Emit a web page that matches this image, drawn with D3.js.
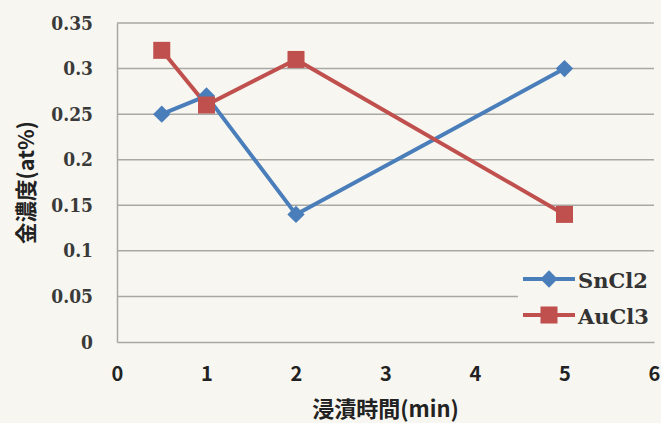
<!DOCTYPE html>
<html>
<head>
<meta charset="utf-8">
<script src="https://cdn.jsdelivr.net/npm/d3@7"></script>
<style>
  html, body { margin: 0; padding: 0; background: #f8f6f0; }
  svg { display: block; }
</style>
</head>
<body>
<svg id="chart" width="661" height="423"></svg>
<script>
// Immersion time (min) and gold concentration (at%)
const times = [0.5, 1, 2, 5];
const sncl2 = [0.25, 0.27, 0.14, 0.30];
const aucl3 = [0.32, 0.26, 0.31, 0.14];
const seriesNames = ["SnCl2", "AuCl3"];
const xTicks = [0, 1, 2, 3, 4, 5, 6];
const yTicks = [0, 0.05, 0.1, 0.15, 0.2, 0.25, 0.3, 0.35];
const xTitle = "浸漬時間(min)";
const yTitle = "金濃度(at%)";

const colors = ["#4a7ebb", "#c0504d"];
const svg = d3.select("#chart");
const plot = { left: 117, right: 654, top: 23, bottom: 342 };

const x = d3.scaleLinear().domain([0, 6]).range([plot.left, plot.right]);
const y = d3.scaleLinear().domain([0, 0.35]).range([plot.bottom, plot.top]);

const serifFont = "'DejaVu Serif', serif";
const sansFont = "'Noto Sans CJK JP', sans-serif";

// horizontal gridlines
svg.append("g").selectAll("line").data(yTicks.filter(d => d > 0)).join("line")
  .attr("x1", plot.left).attr("x2", plot.right)
  .attr("y1", d => y(d)).attr("y2", d => y(d))
  .attr("stroke", "#a8a8a4").attr("stroke-width", 1.5);

// axes
const yAxis = d3.axisLeft(y).tickValues(yTicks).tickSize(0).tickPadding(24)
  .tickFormat(d => String(+d.toFixed(2)));
const gy = svg.append("g").attr("transform", `translate(${plot.left},0)`).call(yAxis);
gy.select(".domain").attr("stroke", "#a8a8a4").attr("stroke-width", 1.5);
gy.selectAll("text").style("font-family", serifFont).style("font-size", "19px")
  .style("font-stretch", "condensed").style("font-weight", "bold").attr("fill", "#3a3a3a");

const xAxis = d3.axisBottom(x).tickValues(xTicks).tickSize(0).tickPadding(25)
  .tickFormat(d3.format("d"));
const gx = svg.append("g").attr("transform", `translate(0,${plot.bottom})`).call(xAxis);
gx.select(".domain").attr("stroke", "#a8a8a4").attr("stroke-width", 1.5);
gx.selectAll("text").style("font-family", sansFont).style("font-size", "20px")
  .style("font-weight", "bold").attr("fill", "#222");

// axis titles
svg.append("text").attr("x", x(3)).attr("y", 417)
  .attr("text-anchor", "middle").style("font-family", sansFont)
  .style("font-size", "22px").style("font-weight", "bold").attr("fill", "#222")
  .text(xTitle);
svg.append("text").attr("transform", `translate(34,182.5) rotate(-90)`)
  .attr("text-anchor", "middle").style("font-family", sansFont)
  .style("font-size", "21.5px").style("font-weight", "bold").attr("fill", "#222")
  .text(yTitle);

const line = d3.line().x(d => x(d[0])).y(d => y(d[1]));
const allSeries = [sncl2, aucl3];

// markers: an even-sided rhombus and a square
const rhombus = {
  draw(context, size) {
    const r = Math.sqrt(size / 2);
    context.moveTo(0, -r);
    context.lineTo(r, 0);
    context.lineTo(0, r);
    context.lineTo(-r, 0);
    context.closePath();
  }
};
const diamond = d3.symbol().type(rhombus).size(150);
const square = d3.symbol().type(d3.symbolSquare).size(290);
const markerPath = [diamond, square];

allSeries.forEach((vals, i) => {
  const pts = times.map((t, j) => [t, vals[j]]);
  svg.append("path").attr("d", line(pts)).attr("fill", "none")
    .attr("stroke", colors[i]).attr("stroke-width", 4).attr("stroke-linejoin", "round");
});
allSeries.forEach((vals, i) => {
  const pts = times.map((t, j) => [t, vals[j]]);
  svg.append("g").selectAll("path").data(pts).join("path")
    .attr("transform", d => `translate(${x(d[0])},${y(d[1])})`)
    .attr("d", markerPath[i]()).attr("fill", colors[i]);
});

// legend
const legend = svg.append("g");
legend.append("rect").attr("x", 518).attr("y", 262).attr("width", 143).attr("height", 74)
  .attr("fill", "#f8f6f0");
seriesNames.forEach((name, i) => {
  const ly = 279 + i * 36;
  legend.append("line").attr("x1", 523).attr("x2", 575).attr("y1", ly).attr("y2", ly)
    .attr("stroke", colors[i]).attr("stroke-width", 4);
  legend.append("path").attr("transform", `translate(549,${ly})`)
    .attr("d", markerPath[i]()).attr("fill", colors[i]);
  legend.append("text").attr("x", 578).attr("y", ly + 8.5)
    .style("font-family", serifFont).style("font-size", "21px").style("font-weight", "bold")
    .attr("fill", "#333").text(name);
});
</script>
</body>
</html>
